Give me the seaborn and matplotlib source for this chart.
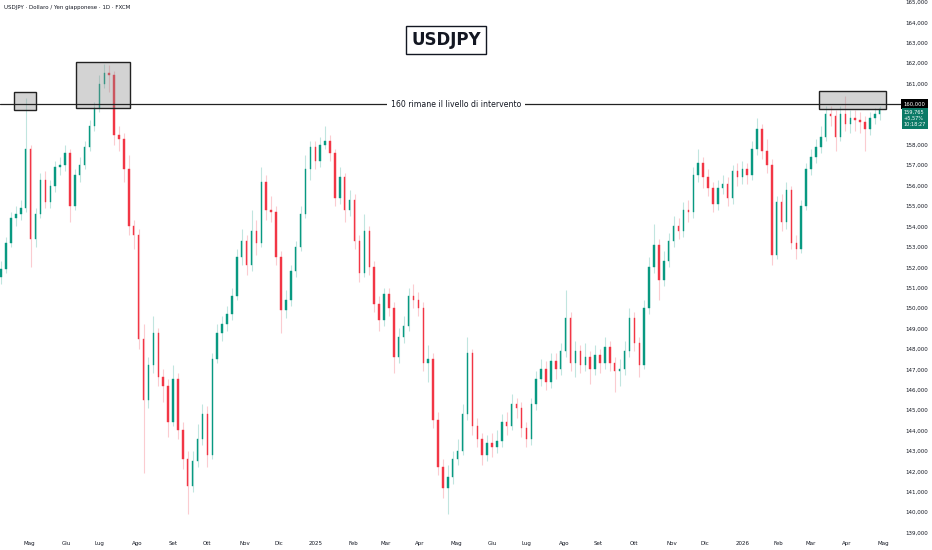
import numpy as np
import pandas as pd
import matplotlib
matplotlib.use("Agg")
import matplotlib.pyplot as plt
from matplotlib.patches import Rectangle
import seaborn as sns

# --- data (one candle every 3 trading days) ---
start_day = "2024-04-08"
step_days = 3
first_open = 151.5

closes = [
    151.9, 153.2, 154.4, 154.6, 154.9, 157.8, 153.4, 154.6, 156.3, 155.2,
    156.0, 156.9, 157.0, 157.6, 155.0, 156.5, 157.0, 157.9, 158.9, 159.8,
    161.0, 161.5, 161.4, 158.5, 158.3, 156.8, 154.0, 153.6, 148.5, 145.5,
    147.2, 148.8, 146.6, 146.2, 144.4, 146.5, 144.0, 142.6, 141.3, 142.5,
    143.6, 144.8, 142.8, 147.5, 148.8, 149.2, 149.7, 150.6, 152.5, 153.3,
    152.1, 153.8, 153.2, 156.2, 154.8, 154.7, 152.5, 149.9, 150.4, 151.8,
    153.0, 154.6, 156.8, 157.9, 157.2, 158.0, 158.2, 157.6, 155.4, 156.4,
    154.8, 155.3, 153.3, 151.7, 153.8, 152.0, 150.2, 149.4, 150.7, 150.0,
    147.6, 148.6, 149.1, 150.6, 150.4, 150.0, 147.3, 147.5, 144.5, 142.2,
    141.2, 141.7, 142.6, 143.0, 144.8, 147.8, 144.2, 143.6, 142.8, 143.4,
    143.2, 143.5, 144.4, 144.2, 145.3, 145.1, 144.1, 143.6, 145.3, 146.5,
    147.0, 146.4, 147.4, 147.0, 147.9, 149.5, 147.3, 147.9, 147.2, 147.6,
    147.0, 147.7, 147.3, 148.1, 147.3, 146.9, 147.0, 147.9, 149.5, 148.3,
    147.2, 150.0, 152.0, 153.1, 151.4, 152.3, 153.3, 154.0, 153.8, 154.8,
    154.7, 156.5, 157.1, 156.4, 155.9, 155.1, 155.9, 156.1, 155.4, 156.7,
    156.4, 156.8, 156.5, 157.8, 158.8, 157.7, 157.0, 152.6, 155.2, 154.2,
    155.8, 153.2, 152.9, 155.0, 156.8, 157.4, 157.9, 158.4, 159.5, 159.4,
    158.4, 159.5, 159.0, 159.3, 159.2, 159.1, 158.8, 159.3, 159.5, 159.765,
]

highs = [
    152.3, 153.5, 154.7, 155.0, 155.3, 160.3, 158.0, 154.9, 156.6, 156.7,
    156.3, 157.2, 157.4, 158.0, 157.8, 156.8, 157.4, 158.2, 159.2, 160.1,
    161.4, 161.95, 161.9, 161.6, 158.9, 158.6, 157.5, 154.3, 153.9, 149.2,
    147.6, 149.6, 149.0, 147.0, 146.5, 147.2, 146.8, 144.4, 143.0, 143.0,
    144.3, 145.3, 145.2, 147.8, 149.2, 149.6, 150.1, 151.0, 152.9, 153.9,
    153.6, 154.8, 154.3, 156.9, 156.5, 155.5, 155.0, 152.8, 150.9, 152.1,
    153.3, 155.0, 157.5, 158.2, 158.2, 158.4, 158.9, 158.5, 157.8, 156.9,
    156.6, 155.8, 155.6, 153.6, 154.6, 154.0, 152.3, 150.6, 151.0, 151.0,
    150.3, 149.0, 149.6, 151.0, 151.2, 150.8, 150.3, 148.2, 147.8, 144.9,
    142.6, 142.3, 143.0, 143.6, 145.3, 148.6, 148.0, 144.6, 143.9, 143.8,
    143.9, 144.0, 144.8, 144.9, 145.8, 145.6, 145.4, 144.4, 145.6, 146.9,
    147.5, 147.4, 147.8, 147.8, 148.3, 150.9, 149.8, 148.4, 148.2, 148.3,
    147.9, 148.2, 148.0, 148.6, 148.4, 147.6, 147.5, 148.4, 150.0, 149.8,
    148.6, 150.4, 152.5, 154.1, 153.4, 152.8, 153.7, 154.5, 154.4, 155.2,
    155.3, 156.9, 157.8, 157.4, 156.8, 156.2, 156.3, 156.5, 156.4, 157.0,
    157.1, 157.2, 157.1, 158.2, 159.3, 159.0, 158.3, 157.3, 155.5, 155.6,
    156.2, 156.0, 153.6, 155.3, 157.1, 157.8, 158.3, 158.9, 159.9, 159.9,
    159.7, 159.9, 160.4, 159.7, 159.7, 159.6, 159.4, 159.6, 159.8, 159.9,
]

lows = [
    151.2, 151.7, 153.0, 154.0, 154.3, 154.7, 152.0, 153.0, 154.4, 154.9,
    154.9, 155.7, 156.5, 156.7, 154.2, 154.8, 156.2, 156.8, 157.7, 158.7,
    159.6, 160.8, 160.6, 158.0, 157.7, 156.2, 153.6, 152.9, 148.0, 141.9,
    145.1, 146.8, 146.2, 145.4, 143.7, 144.2, 143.6, 142.1, 139.9, 141.0,
    142.2, 143.3, 142.2, 142.6, 147.3, 148.4, 148.9, 149.4, 150.4, 152.1,
    151.6, 151.8, 152.6, 153.0, 154.3, 154.2, 152.1, 148.8, 149.5, 150.1,
    151.5, 152.8, 154.4, 156.3, 156.8, 156.9, 157.8, 157.2, 155.0, 155.1,
    154.2, 154.5, 152.9, 151.3, 151.5, 151.6, 149.8, 148.9, 149.1, 149.6,
    146.8, 147.3, 148.3, 148.9, 150.0, 149.6, 146.9, 146.4, 144.1, 141.8,
    140.7, 139.9, 141.4, 142.3, 142.8, 144.5, 143.8, 143.2, 142.3, 142.5,
    142.7, 142.9, 143.2, 143.8, 144.0, 144.6, 143.7, 143.2, 143.3, 145.0,
    146.2, 146.0, 146.1, 146.5, 146.7, 147.6, 146.9, 146.6, 146.8, 146.9,
    146.3, 146.7, 146.8, 147.0, 146.9, 145.9, 146.2, 146.7, 147.6, 147.9,
    146.6, 147.0, 149.7, 151.7, 150.4, 151.1, 152.0, 153.0, 153.4, 153.5,
    154.2, 154.4, 156.2, 155.9, 155.5, 154.7, 154.8, 155.6, 155.0, 155.1,
    156.0, 156.1, 156.1, 156.3, 157.5, 157.3, 156.6, 152.1, 152.4, 153.8,
    153.9, 152.9, 152.4, 152.7, 154.8, 156.5, 157.1, 157.6, 158.2, 158.9,
    157.7, 158.2, 158.7, 158.6, 158.7, 158.6, 157.7, 158.5, 159.0, 159.2,
]

month_labels = ["Mag", "Giu", "Lug", "Ago", "Set", "Ott", "Nov", "Dic", "2025",
                "Feb", "Mar", "Apr", "Mag", "Giu", "Lug", "Ago", "Set", "Ott",
                "Nov", "Dic", "2026", "Feb", "Mar", "Apr", "Mag"]

price_ticks = list(range(139, 166))
covered_ticks = [159, 160]  # hidden behind the price tags

# highlighted zones: (from, to, low, high)
zones = [
    ("2024-04-18", "2024-05-07", 159.71, 160.59),
    ("2024-06-11", "2024-07-26", 159.80, 162.06),
    ("2026-03-09", "2026-05-05", 159.75, 160.64),
]

level = 160.0
last_price = "159,765"
last_change = "+5,57%"
countdown = "10:18:27"

# --- build frame ---
dates = np.busday_offset(start_day, np.arange(len(closes)) * step_days, roll="forward")
df = pd.DataFrame({"date": dates, "close": closes, "high": highs, "low": lows})
df["open"] = df["close"].shift(1).fillna(first_open)
df["x"] = np.busday_count(start_day, df["date"].values.astype("datetime64[D]"))
df["up"] = df["close"] >= df["open"]

month_starts = pd.date_range("2024-05-01", periods=len(month_labels), freq="MS")
month_pos = np.busday_count(start_day, np.busday_offset(month_starts.values.astype("datetime64[D]"), 0, roll="forward"))

sns.set_style("white")
plt.rcParams["font.family"] = ["DejaVu Sans"]

up_col = "#089981"
dn_col = "#f23645"

fig = plt.figure(figsize=(9.32, 5.5), dpi=100)
ax = fig.add_axes([0, 12 / 550, 893 / 932, 538 / 550])

# wicks and bodies
for up, col in [(True, up_col), (False, dn_col)]:
    d = df[df["up"] == up]
    ax.vlines(d["x"], d["low"], d["high"], color=col, alpha=0.25, lw=0.8, zorder=2)
    ax.bar(d["x"], (d["close"] - d["open"]).abs().clip(lower=0.06),
           bottom=np.minimum(d["open"], d["close"]), width=0.9,
           color=col, edgecolor=col, lw=0.3, zorder=3)

# zones
for a, b, lo, hi in zones:
    x0 = np.busday_count(start_day, a)
    x1 = np.busday_count(start_day, b)
    ax.add_patch(Rectangle((x0, lo), x1 - x0, hi - lo, facecolor=(0.55, 0.55, 0.55, 0.38),
                           edgecolor="#222222", lw=1.0, zorder=4))

# level line with label
ax.axhline(level, xmin=0, xmax=1.012, color="#222222", lw=0.9, clip_on=False, zorder=5)
ytr = ax.get_yaxis_transform()
ax.text(0.5106, level, "160 rimane il livello di intervento", transform=ytr,
        ha="center", va="center", fontsize=5.6, color="#131722", zorder=6,
        bbox=dict(facecolor="white", edgecolor="none", pad=2.5))

ax.set_xlim(-0.73, 545.1)
ax.set_ylim(138.73, 165.1)

ax.set_xticks(month_pos)
ax.set_xticklabels(month_labels)
ax.set_yticks(price_ticks)
ax.set_yticklabels(["" if v in covered_ticks else f"{v:.3f}".replace(".", ",")
                    for v in price_ticks])
ax.yaxis.tick_right()
ax.tick_params(axis="both", length=0, labelsize=4, colors="#131722")
ax.tick_params(axis="x", pad=2.5)
ax.tick_params(axis="y", pad=9)
for s in ax.spines.values():
    s.set_visible(False)
ax.grid(False)

# price tags on the right axis
ax.text(1.012, level, "160,000", transform=ytr, ha="left", va="center", fontsize=3.8,
        color="white", zorder=7, clip_on=False,
        bbox=dict(facecolor="#000000", edgecolor="none", pad=1.6))
ax.text(1.012, 159.3, f"{last_price}\n{last_change}\n{countdown}", transform=ytr,
        ha="left", va="center", fontsize=3.6, color="white", linespacing=1.25,
        zorder=7, clip_on=False,
        bbox=dict(facecolor="#0b7a66", edgecolor="none", pad=1.6))

fig.text(4 / 932, 1 - 7 / 550, "USDJPY · Dollaro / Yen giapponese · 1D · FXCM",
         ha="left", va="center", fontsize=4, color="#131722")
fig.text(446 / 932, 1 - 40 / 550, "USDJPY", ha="center", va="center",
         fontsize=12, fontweight="bold", color="#131722",
         bbox=dict(boxstyle="square,pad=0.3", facecolor="white", edgecolor="#131722", lw=1.0))

fig.savefig("out.png", dpi=100, facecolor="white")
